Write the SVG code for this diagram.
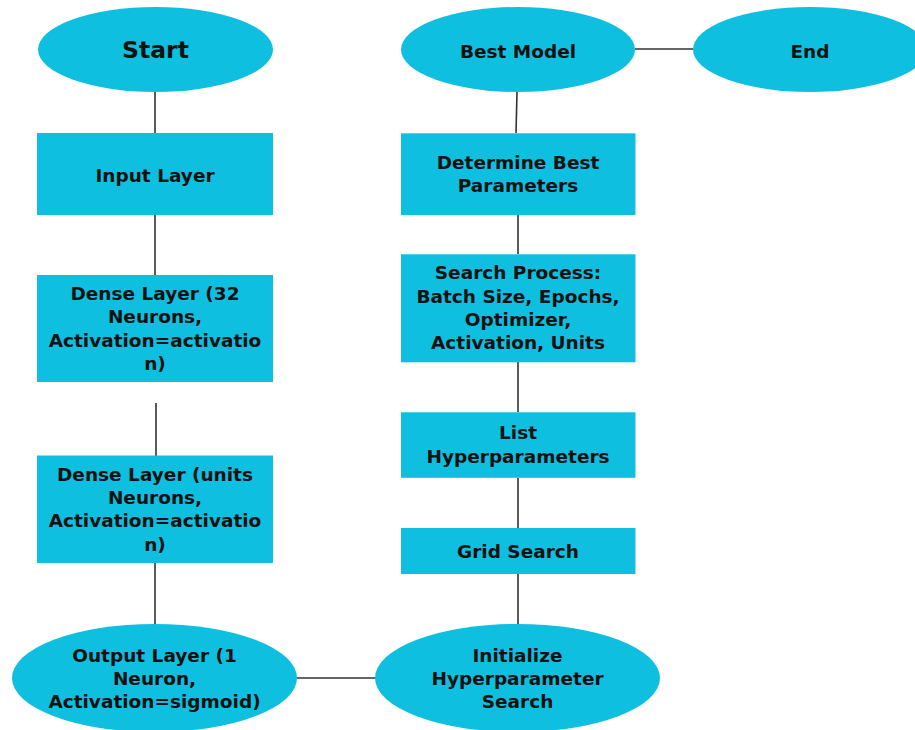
<svg xmlns="http://www.w3.org/2000/svg" width="915" height="730" viewBox="0 0 915 730">
<style>
.n{fill:#0fbfdf}
.t{font-family:"DejaVu Sans",sans-serif;font-weight:bold;font-size:18.5px;fill:#111;text-anchor:middle}
.big{font-size:23.5px}
.c{stroke:#333;stroke-width:1.6;fill:none}
</style>
<rect width="915" height="730" fill="#fff"/>
<g id="connectors">
<line class="c" x1="155" y1="92" x2="155" y2="133"/>
<line class="c" x1="155" y1="215" x2="155" y2="275"/>
<line class="c" x1="156" y1="403" x2="156" y2="456"/>
<line class="c" x1="155" y1="563" x2="155" y2="624"/>
<line class="c" x1="297" y1="678" x2="376" y2="678"/>
<line class="c" x1="518" y1="574" x2="518" y2="624"/>
<line class="c" x1="518" y1="478" x2="518" y2="528"/>
<line class="c" x1="518" y1="362" x2="518" y2="412"/>
<line class="c" x1="518" y1="215" x2="518" y2="254"/>
<line class="c" x1="517" y1="92" x2="516" y2="133"/>
<line class="c" x1="635" y1="49" x2="693" y2="49"/>
</g>
<g id="start">
<ellipse class="n" cx="155.5" cy="49.5" rx="117.5" ry="42.5"/>
<text class="t big" x="155.5" y="58">Start</text>
</g>
<g id="input">
<rect class="n" x="37" y="133" width="236" height="82"/>
<text class="t" x="155" y="181.5">Input Layer</text>
</g>
<g id="dense1">
<rect class="n" x="37" y="275" width="236" height="107"/>
<text class="t" x="155" y="300">Dense Layer (32</text>
<text class="t" x="155" y="323.3">Neurons,</text>
<text class="t" x="155" y="346.6">Activation=activatio</text>
<text class="t" x="155" y="370">n)</text>
</g>
<g id="dense2">
<rect class="n" x="37" y="455.5" width="236" height="107.5"/>
<text class="t" x="155" y="480.7">Dense Layer (units</text>
<text class="t" x="155" y="504">Neurons,</text>
<text class="t" x="155" y="527.3">Activation=activatio</text>
<text class="t" x="155" y="550.6">n)</text>
</g>
<g id="output">
<ellipse class="n" cx="154.5" cy="678" rx="142.5" ry="54"/>
<text class="t" x="154.5" y="661.7">Output Layer (1</text>
<text class="t" x="154.5" y="685">Neuron,</text>
<text class="t" x="154.5" y="708.3">Activation=sigmoid)</text>
</g>
<g id="initialize">
<ellipse class="n" cx="517.5" cy="678" rx="142.5" ry="54"/>
<text class="t" x="517.5" y="661.7">Initialize</text>
<text class="t" x="517.5" y="685">Hyperparameter</text>
<text class="t" x="517.5" y="708.3">Search</text>
</g>
<g id="grid">
<rect class="n" x="401" y="528" width="234.5" height="46"/>
<text class="t" x="518" y="558.3">Grid Search</text>
</g>
<g id="list">
<rect class="n" x="401" y="412.3" width="234.5" height="65.5"/>
<text class="t" x="518" y="439">List</text>
<text class="t" x="518" y="463">Hyperparameters</text>
</g>
<g id="search">
<rect class="n" x="401" y="254.3" width="234.5" height="108"/>
<text class="t" x="518" y="279.3">Search Process:</text>
<text class="t" x="518" y="302.6">Batch Size, Epochs,</text>
<text class="t" x="518" y="326">Optimizer,</text>
<text class="t" x="518" y="349.3">Activation, Units</text>
</g>
<g id="determine">
<rect class="n" x="401" y="133.3" width="234.5" height="81.7"/>
<text class="t" x="518" y="169.3">Determine Best</text>
<text class="t" x="518" y="192">Parameters</text>
</g>
<g id="best">
<ellipse class="n" cx="518" cy="49.5" rx="117" ry="42.5"/>
<text class="t" x="518" y="57.5">Best Model</text>
</g>
<g id="end">
<ellipse class="n" cx="810" cy="49.5" rx="117" ry="42.5"/>
<text class="t" x="810" y="57.5">End</text>
</g>
</svg>
